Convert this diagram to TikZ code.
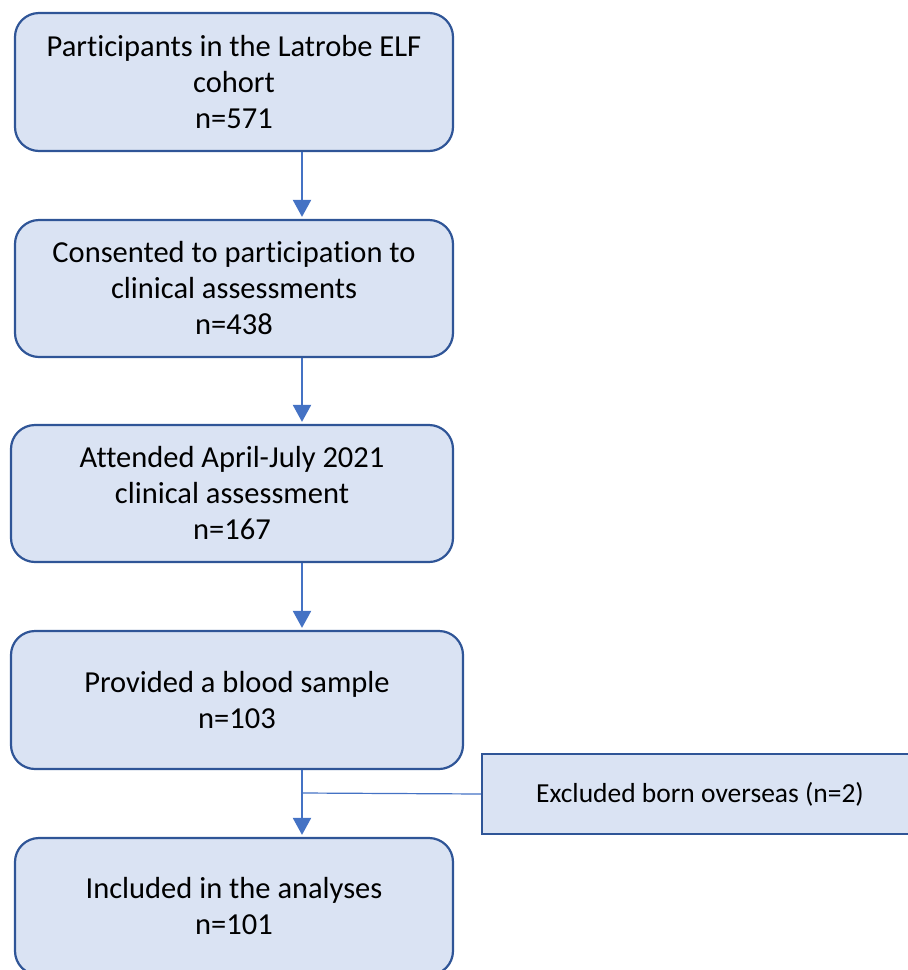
\documentclass[tikz,border=0pt]{standalone}
\usepackage{fontspec}
\setmainfont[Ligatures={NoCommon}]{Carlito}
\usetikzlibrary{arrows.meta}
\definecolor{boxfill}{HTML}{DAE3F3}
\definecolor{boxline}{HTML}{2F5597}
\definecolor{arrcol}{HTML}{4472C4}
\begin{document}
\begin{tikzpicture}[x=1pt,y=-1pt,
  box/.style={draw=boxline, fill=boxfill, line width=2.2pt, rounded corners=24pt,
    align=center, inner sep=0pt, font=\fontsize{30.5}{36}\selectfont},
  exbox/.style={draw=boxline, fill=boxfill, line width=2.2pt, align=center,
    inner sep=0pt, font=\fontsize{27.5}{32}\selectfont},
  arr/.style={draw=arrcol, line width=2.2pt, -{Triangle[width=18pt,length=17pt]}, shorten >=2pt},
  thinline/.style={draw=arrcol, line width=1.2pt}]
\useasboundingbox (0,0) rectangle (908,970);
\begin{scope}
\clip (0,0) rectangle (908,970);
\node[box, minimum width=438pt, minimum height=138pt] (a) at (234,82)
  {Participants in the Latrobe ELF\\cohort\\n=571};
\node[box, minimum width=438pt, minimum height=137pt] (b) at (234,288.5)
  {Consented to participation to\\clinical assessments\\n=438};
\node[box, minimum width=442pt, minimum height=137pt] (c) at (232,493.5)
  {Attended April-July 2021\\clinical assessment\\n=167};
\node[box, minimum width=452pt, minimum height=138pt] (d) at (237,700)
  {Provided a blood sample\\n=103};
\node[box, minimum width=438pt, minimum height=137pt] (e) at (234,906.5)
  {Included in the analyses\\n=101};
\node[exbox, minimum width=436pt, minimum height=80pt] (x) at (700,794)
  {Excluded born overseas (n=2)};
\coordinate (ax) at (302,0);
\coordinate (j) at (302,793);
\draw[arr] (a.south -| ax) -- (b.north -| ax);
\draw[arr] (b.south -| ax) -- (c.north -| ax);
\draw[arr] (c.south -| ax) -- (d.north -| ax);
\draw[arr] (d.south -| ax) -- (e.north -| ax);
\draw[thinline] (j) -- (x.west);
\end{scope}
\end{tikzpicture}
\end{document}
